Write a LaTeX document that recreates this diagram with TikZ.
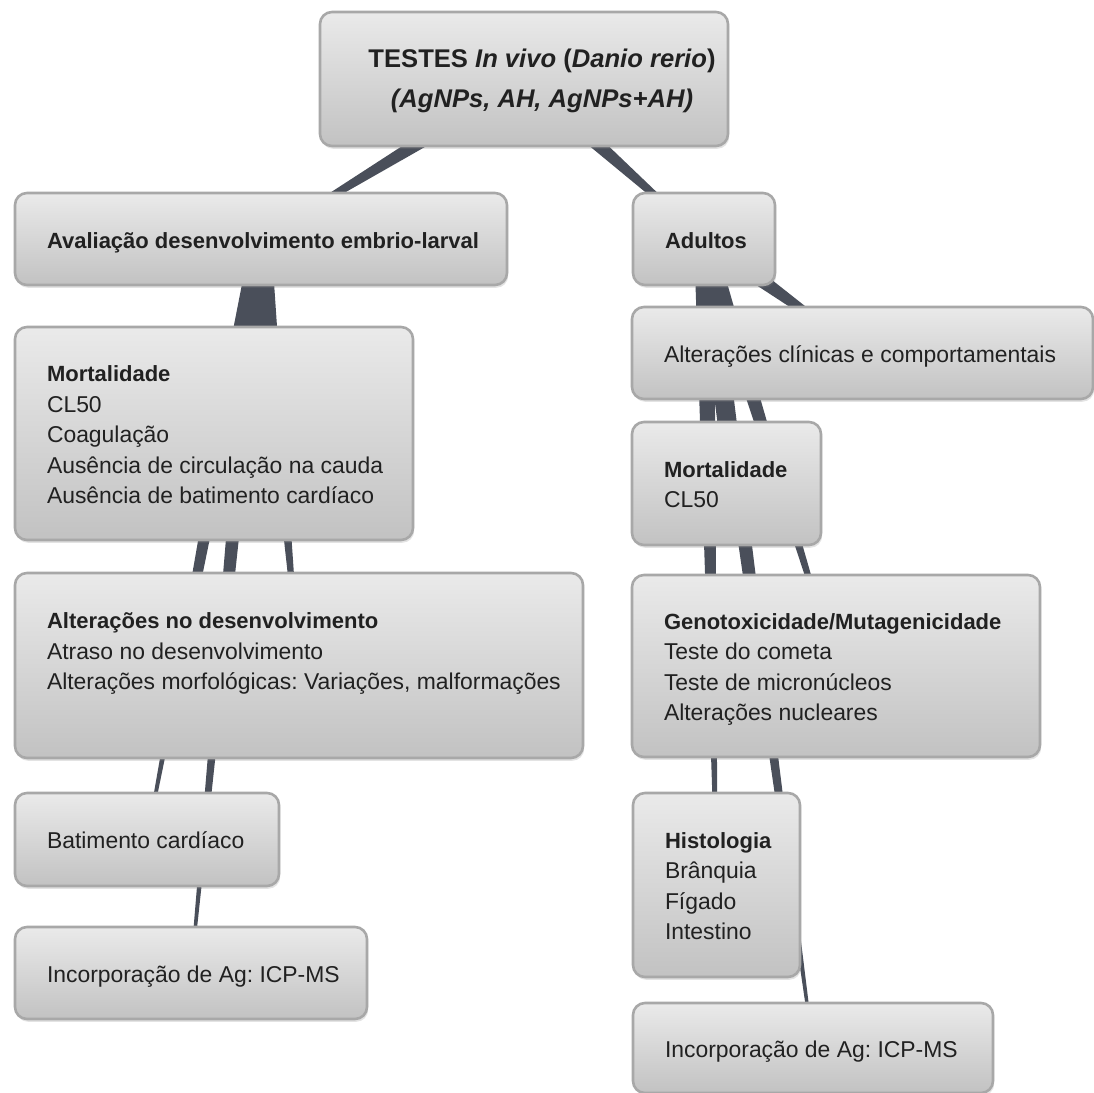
\documentclass[tikz,border=0pt]{standalone}
\usepackage{fontspec}
\setmainfont{Liberation Sans}
\usetikzlibrary{calc,shadows,backgrounds}
\frenchspacing

\definecolor{branchcol}{RGB}{74,79,90}
\definecolor{boxtop}{RGB}{234,234,234}
\definecolor{boxbot}{RGB}{194,194,194}
\definecolor{boxline}{RGB}{168,168,168}
\definecolor{inktext}{RGB}{33,33,33}

\tikzset{
    mapbox/.style={draw=boxline, line width=1.3pt, rounded corners=6pt,
        top color=boxtop, bottom color=boxbot,
        drop shadow={shadow xshift=0.6pt, shadow yshift=-1.4pt, opacity=0.22},
        text=inktext, inner sep=0pt,
        font=\fontsize{11.45}{15.25}\selectfont},
}
% left aligned lines in a box of fixed width
\newcommand{\boxlines}[2]{\raisebox{-1.5pt}[\height][\depth]{\makebox[#1][l]{\begin{tabular}{@{}l@{}}#2\end{tabular}}}}
\newcommand{\hd}[1]{{\fontsize{11}{15.25}\selectfont\bfseries #1}}
% tapered branch, wide at the parent and thin at the child
\def \bwide {5pt}
\def \bthin {0.6pt}
\newcommand{\branch}[2]{%
    \fill[branchcol] ($(#1)!\bwide!90:(#2)$) -- ($(#2)!\bthin!-90:(#1)$)
        -- ($(#2)!\bthin!90:(#1)$) -- ($(#1)!\bwide!-90:(#2)$) -- cycle;}

\begin{document}
\begin{tikzpicture}[x=0.5pt, y=-0.5pt]
    \useasboundingbox (0,0) rectangle (1094,1093);

    \node[mapbox, minimum width=204pt, minimum height=67pt,
        font=\bfseries\fontsize{12.8}{20}\selectfont] (root) at (524,79)
        {\begin{tabular}{@{}c@{}}\hspace*{18pt}TESTES \textit{In vivo} (\textit{Danio rerio})\\
        \hspace*{18pt}\textit{(AgNPs, AH, AgNPs+AH)}\end{tabular}};

    \node[mapbox, minimum width=246pt, minimum height=46pt] (aval) at (261,239)
        {\boxlines{214pt}{\hd{Avaliação desenvolvimento embrio-larval}}};
    \node[mapbox, minimum width=71pt, minimum height=46pt] (adult) at (704,239)
        {\boxlines{39pt}{\hd{Adultos}}};

    % embrio-larval
    \node[mapbox, minimum width=199pt, minimum height=106.5pt] (mortL) at (214,433.5)
        {\boxlines{167pt}{\hd{Mortalidade}\\CL50\\Coagulação\\
        Ausência de circulação na cauda\\Ausência de batimento cardíaco}};
    \node[mapbox, minimum width=284pt, minimum height=92.5pt] (altdev) at (299,665.5)
        {\boxlines{252pt}{\hd{Alterações no desenvolvimento}\\Atraso no desenvolvimento\\
        Alterações morfológicas: Variações, malformações\\ \mbox{}}};
    \node[mapbox, minimum width=132pt, minimum height=46.5pt] (batim) at (147,839.5)
        {\boxlines{100pt}{Batimento cardíaco}};
    \node[mapbox, minimum width=176pt, minimum height=46pt] (incL) at (191,973)
        {\boxlines{144pt}{Incorporação de Ag: ICP-MS}};

    % adultos
    \node[mapbox, minimum width=230.5pt, minimum height=46pt] (clin) at (862.5,353)
        {\boxlines{198.5pt}{Alterações clínicas e comportamentais}};
    \node[mapbox, minimum width=94.5pt, minimum height=61.5pt] (mortR) at (726.5,483.5)
        {\boxlines{62.5pt}{\hd{Mortalidade}\\CL50}};
    \node[mapbox, minimum width=204pt, minimum height=91pt] (geno) at (836,666)
        {\boxlines{172pt}{\hd{Genotoxicidade/Mutagenicidade}\\Teste do cometa\\
        Teste de micronúcleos\\Alterações nucleares}};
    \node[mapbox, minimum width=83.5pt, minimum height=92pt] (histo) at (716.5,885)
        {\boxlines{51.5pt}{\hd{Histologia}\\Brânquia\\Fígado\\Intestino}};
    \node[mapbox, minimum width=180pt, minimum height=45pt] (incR) at (813,1048)
        {\boxlines{148pt}{Incorporação de Ag: ICP-MS}};

    \begin{scope}[on background layer]
        \foreach \a/\b in {root/aval, root/adult, aval/mortL, aval/altdev, aval/batim,
            aval/incL, adult/clin, adult/mortR, adult/geno, adult/histo, adult/incR}
            \branch{\a}{\b};
    \end{scope}
\end{tikzpicture}
\end{document}
